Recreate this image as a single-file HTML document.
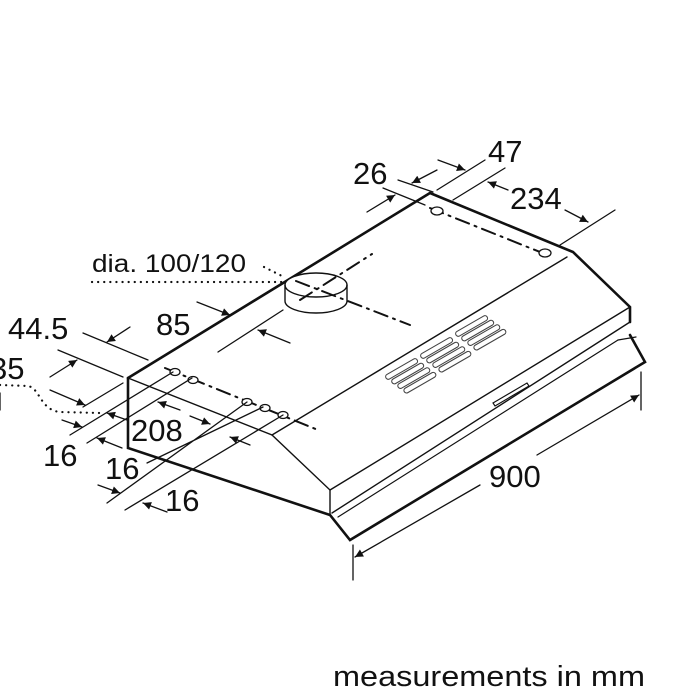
<!DOCTYPE html>
<html><head><meta charset="utf-8"><style>
html,body{margin:0;padding:0;background:#fff;}
svg{display:block;}
text{font-family:"Liberation Sans",sans-serif;fill:#111;}
</style></head><body>
<svg width="700" height="700" viewBox="0 0 700 700" xmlns="http://www.w3.org/2000/svg">
<defs>
<marker id="a" viewBox="0 0 10 10" refX="10" refY="5" markerWidth="10" markerHeight="8" orient="auto" markerUnits="userSpaceOnUse"><path d="M0,0 L10,5 L0,10 z" fill="#111"/></marker>
<g id="slot"><rect x="0" y="-2.6" width="36" height="5.2" rx="2.6" fill="#fff" stroke="#444" stroke-width="1.1"/></g>
</defs>
<g stroke="#111" fill="none" stroke-linecap="round">
<path d="M128,378 L430,193 L573,252 L630,307 L630,322" stroke-width="2.6"/>
<path d="M128,378 L128,448 L330,515 L350,540 L645,362 L630,335" stroke-width="2.6"/>
<path d="M128,378 L272,435 L330,490 L330,515" stroke-width="1.4"/>
<path d="M272,435 L567,257" stroke-width="1.4"/>
<path d="M330,490 L630,307" stroke-width="1.4"/>
<path d="M332,513 L630,322" stroke-width="1.4"/>
<path d="M338,517 L618,340" stroke-width="1.2"/>
<path d="M618,340 L636,337" stroke-width="1.2"/>
<path d="M493,403 L527,383 L529,386 L495,406 z" stroke-width="1.2"/>
<ellipse cx="316" cy="285" rx="31" ry="12" stroke-width="1.4" fill="#fff"/>
<path d="M285,285 L285,301 A31,12 0 0 0 347,301 L347,285" stroke-width="1.4"/>
<g stroke-width="2" stroke-dasharray="14,6,2,6">
<path d="M300,300 L372,254"/>
<path d="M296,281 L410,325"/>
<path d="M430,208 L550,256"/>
<path d="M165,368 L318,430"/>
</g>
<g stroke-width="1.3" fill="#fff">
<ellipse cx="437" cy="211" rx="6" ry="4"/>
<ellipse cx="545" cy="253" rx="6" ry="4"/>
<ellipse cx="175" cy="372" rx="5" ry="3.5"/>
<ellipse cx="193" cy="380" rx="5" ry="3.5"/>
<ellipse cx="247" cy="402" rx="5" ry="3.5"/>
<ellipse cx="265" cy="408" rx="5" ry="3.5"/>
<ellipse cx="283" cy="415" rx="5" ry="3.5"/>
</g>
<g stroke-width="1.3">
<path d="M353,545 L353,580 M641,372 L641,410"/>
<path d="M480,485 L355,557" marker-end="url(#a)"/>
<path d="M537,455 L639,395" marker-end="url(#a)"/>
<path d="M398,180 L433,192 M383,188 L425,205"/>
<path d="M367,212 L395,195" marker-end="url(#a)"/>
<path d="M437,170 L412,183" marker-end="url(#a)"/>
<path d="M438,160 L465,170" marker-end="url(#a)"/>
<path d="M437,190 L485,160 M453,200 L505,168"/>
<path d="M508,190 L488,182" marker-end="url(#a)"/>
<path d="M565,210 L588,222" marker-end="url(#a)"/>
<path d="M560,245 L615,210"/>
<path d="M218,352 L283,310"/>
<path d="M197,302 L230,315" marker-end="url(#a)"/>
<path d="M290,343 L258,330" marker-end="url(#a)"/>
<path d="M83,333 L148,360 M58,350 L123,377"/>
<path d="M130,327 L107,342" marker-end="url(#a)"/>
<path d="M50,377 L77,360" marker-end="url(#a)"/>
<path d="M50,390 L85,405" marker-end="url(#a)"/>
<path d="M83,407 L123,383"/>
<path d="M0,393 L0,410"/>
<path d="M70,435 L173,372 M87,443 L192,378"/>
<path d="M62,420 L82,427" marker-end="url(#a)"/>
<path d="M127,420 L107,413" marker-end="url(#a)"/>
<path d="M122,448 L97,438" marker-end="url(#a)"/>
<path d="M107,503 L247,402 M125,510 L283,415 M147,463 L263,407"/>
<path d="M98,485 L120,493" marker-end="url(#a)"/>
<path d="M167,512 L143,503" marker-end="url(#a)"/>
<path d="M180,410 L158,402" marker-end="url(#a)"/>
<path d="M190,416 L210,424" marker-end="url(#a)"/>
<path d="M250,445 L230,437" marker-end="url(#a)"/>
</g>
<g stroke-width="2.2" stroke-dasharray="0.1,6">
<path d="M92,282 L287,282"/>
<path d="M264,267 L284,277"/>
<path d="M0,385 L28,386 C40,388 40,410 60,412 L100,413"/>
</g>
</g>
<g>
<g transform="translate(386,378) rotate(-30)"><use href="#slot"/><use href="#slot" transform="translate(3,7)"/><use href="#slot" transform="translate(6,14)"/><use href="#slot" transform="translate(9,21)"/></g>
<g transform="translate(421,357) rotate(-30)"><use href="#slot"/><use href="#slot" transform="translate(3,7)"/><use href="#slot" transform="translate(6,14)"/><use href="#slot" transform="translate(9,21)"/></g>
<g transform="translate(456,335) rotate(-30)"><use href="#slot"/><use href="#slot" transform="translate(3,7)"/><use href="#slot" transform="translate(6,14)"/><use href="#slot" transform="translate(9,21)"/></g>
</g>
<g font-size="31">
<text x="488" y="162">47</text>
<text x="353" y="184">26</text>
<text x="510" y="209">234</text>
<text x="156" y="335">85</text>
<text x="8" y="339">44.5</text>
<text x="-10" y="379">35</text>
<text x="131" y="441">208</text>
<text x="43" y="466">16</text>
<text x="105" y="479">16</text>
<text x="165" y="511">16</text>
<text x="489" y="487">900</text>
</g>
<text x="92" y="272" font-size="25" textLength="154" lengthAdjust="spacingAndGlyphs">dia. 100/120</text>
<text x="333" y="686" font-size="29" textLength="312" lengthAdjust="spacingAndGlyphs">measurements in mm</text>
</svg>
</body></html>
